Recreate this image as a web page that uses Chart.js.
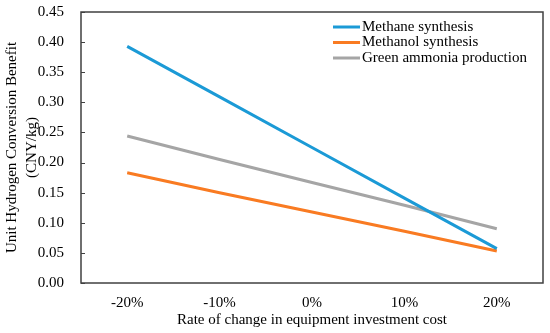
<!DOCTYPE html>
<html>
<head>
<meta charset="utf-8">
<script src="https://cdn.jsdelivr.net/npm/chart.js@4"></script>
<style>
html,body{margin:0;padding:0;background:#fff;}
#wrap{width:550px;height:333px;}
</style>
</head>
<body>
<div id="wrap"><canvas id="c" width="550" height="333"></canvas></div>
<script>
const categories = ['-20%', '-10%', '0%', '10%', '20%'];
const methane = [0.393, 0.309, 0.225, 0.141, 0.057];
const methanol = [0.183, 0.150, 0.118, 0.086, 0.053];
const ammonia = [0.244, 0.205, 0.167, 0.129, 0.090];
const seriesNames = ['Methane synthesis', 'Methanol synthesis', 'Green ammonia production'];
const yTicks = [0, 0.05, 0.10, 0.15, 0.20, 0.25, 0.30, 0.35, 0.40, 0.45];
const xTitle = 'Rate of change in equipment investment cost';
const yTitle = ['Unit Hydrogen Conversion Benefit', '(CNY/kg)'];

const FONT = "'Liberation Serif', 'Times New Roman', serif";
const colors = ['#1B9AD6', '#F97B22', '#A5A5A5'];

const framePlugin = {
  id: 'frame',
  afterDatasetsDraw(chart) {
    const {ctx, chartArea: a, scales} = chart;
    ctx.save();
    ctx.strokeStyle = '#404040';
    ctx.lineWidth = 1.5;
    ctx.strokeRect(a.left, a.top, a.right - a.left, a.bottom - a.top);
    ctx.lineWidth = 1;
    yTicks.forEach(v => {
      const y = Math.round(scales.y.getPixelForValue(v)) + 0.5;
      ctx.beginPath();
      ctx.moveTo(a.left, y);
      ctx.lineTo(a.left + 4, y);
      ctx.stroke();
    });
    ctx.font = '15px ' + FONT;
    ctx.textBaseline = 'middle';
    ctx.textAlign = 'left';
    seriesNames.forEach((n, i) => {
      const y = 27 + i * 15.5;
      ctx.strokeStyle = colors[i];
      ctx.lineWidth = 3;
      ctx.beginPath();
      ctx.moveTo(333, y);
      ctx.lineTo(360, y);
      ctx.stroke();
      ctx.fillStyle = '#000';
      ctx.fillText(n, 362, y);
    });
    ctx.restore();
  }
};

const dsets = [methane, methanol, ammonia].map((d, i) => ({
  label: seriesNames[i],
  data: d,
  borderColor: colors[i],
  backgroundColor: colors[i],
  borderWidth: 3,
  pointRadius: 0,
  tension: 0,
  fill: false
}));

new Chart(document.getElementById('c'), {
  type: 'line',
  data: { labels: categories, datasets: dsets },
  plugins: [framePlugin],
  options: {
    responsive: false,
    animation: false,
    events: [],
    layout: { padding: { top: 12, right: 7, left: 0, bottom: 0 } },
    plugins: { legend: { display: false }, tooltip: { enabled: false } },
    scales: {
      x: {
        offset: true,
        grid: { display: false, drawTicks: false },
        border: { display: false },
        ticks: { color: '#000', font: { family: FONT, size: 15 }, padding: 11, maxRotation: 0 },
        title: { display: true, text: xTitle, color: '#000', font: { family: FONT, size: 15 }, padding: { top: 0, bottom: 4 } },
        afterFit(s) { s.height = 50; s.paddingLeft = 0; s.paddingRight = 0; }
      },
      y: {
        min: 0, max: 0.45,
        afterBuildTicks(s) { s.ticks = yTicks.map(v => ({ value: v })); },
        grid: { display: false, drawTicks: false },
        border: { display: false },
        ticks: {
          color: '#000', font: { family: FONT, size: 15 }, padding: 17,
          callback: v => Number(v).toFixed(2)
        },
        title: { display: true, text: yTitle, color: '#000', font: { family: FONT, size: 15, lineHeight: 1.33 }, padding: { top: 2, bottom: 0 } },
        afterFit(s) { s.width = 81; s.paddingTop = 0; s.paddingBottom = 0; }
      }
    }
  }
});
</script>
</body>
</html>
